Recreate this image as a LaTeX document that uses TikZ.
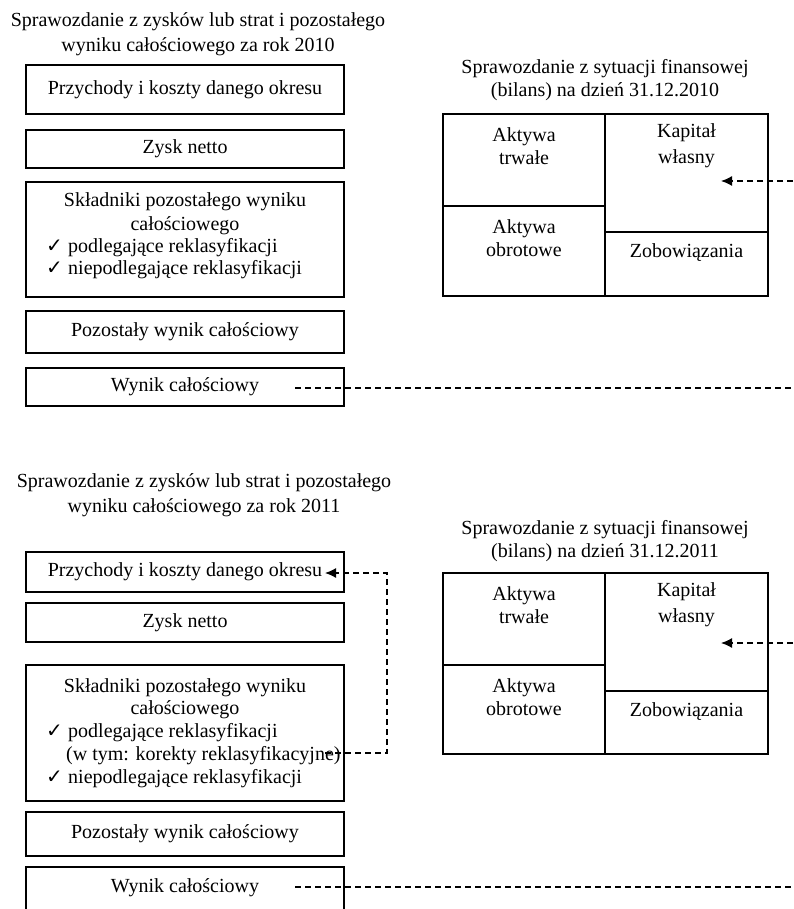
\documentclass[tikz,border=0pt]{standalone}
\usepackage{fontspec}
\setmainfont{Liberation Serif}
\newfontfamily\symfont{DejaVu Sans}
\usetikzlibrary{arrows.meta}
\newcommand{\chk}{{\symfont\fontsize{20}{20}\selectfont ✓}}
\begin{document}
\begin{tikzpicture}[x=1pt,y=-1pt,
  font=\fontsize{20}{23}\selectfont,
  box/.style={draw, line width=1.3pt, inner sep=0pt, minimum width=318pt},
  cell/.style={draw, line width=1.3pt, inner sep=0pt},
  txt/.style={inner sep=0pt, text height=14pt, text depth=4pt},
  ml/.style={inner sep=0pt, align=center},
  conn/.style={line width=1.3pt, dash pattern=on 6pt off 4pt},
  tip/.style={-{Latex[length=11pt,width=10pt]}}]
\useasboundingbox (0,0) rectangle (793,909);
\clip (0,0) rectangle (793,909);

% ---------- 2010 ----------
\node[ml] (t1) at (198,34.5) {Sprawozdanie z zysków lub strat i pozostałego\\[2pt]wyniku całościowego za rok 2010};
\node[box, minimum height=49pt] (a1) at (185,89.5) {\strut Przychody i koszty danego okresu};
\node[box, minimum height=38pt] (a2) at (185,149) {\strut Zysk netto};
\node[box, minimum height=115pt] (a3) at (185,239.5) {};
\node[txt] (a3l1) at (185,202) {Składniki pozostałego wyniku};
\node[txt] (a3l2) at (185,225) {całościowego};
\node[txt, anchor=west] (a3c1) at (46,247) {\chk};
\node[txt, anchor=west] (a3l3) at (68,247) {podlegające reklasyfikacji};
\node[txt, anchor=west] (a3c2) at (46,269) {\chk};
\node[txt, anchor=west] (a3l4) at (68,269) {niepodlegające reklasyfikacji};
\node[box, minimum height=42pt] (a4) at (185,332) {\strut Pozostały wynik całościowy};
\node[box, minimum height=38pt] (a5) at (185,387) {\strut Wynik całościowy};

\node[ml] (r1) at (605,80.5) {Sprawozdanie z sytuacji finansowej\\(bilans) na dzień 31.12.2010};
\node[cell, minimum width=162pt, minimum height=92pt] (at1) at (524,160) {};
\node[cell, minimum width=162pt, minimum height=90pt] (ao1) at (524,251) {};
\node[cell, minimum width=163pt, minimum height=118pt] (kw1) at (686.5,173) {};
\node[cell, minimum width=163pt, minimum height=64pt] (zo1) at (686.5,264) {};
\node[ml] (at1t) at (524,146.5) {Aktywa\\trwałe};
\node[ml] (ao1t) at (524,238.5) {Aktywa\\obrotowe};
\node[ml] (kw1t) at (686.5,146) {Kapitał\\[3pt]własny};
\node[txt] (zo1t) at (686.5,252) {Zobowiązania};

\coordinate (k1in) at (721,181);
\coordinate (k1out) at (793,181);
\draw[conn, tip] (k1out) -- (k1in);
\coordinate (w1s) at (295,388);
\coordinate (w1e) at (793,388);
\draw[conn] (w1s) -- (w1e);

% ---------- 2011 ----------
\node[ml] (t2) at (204,495) {Sprawozdanie z zysków lub strat i pozostałego\\[2pt]wyniku całościowego za rok 2011};
\node[box, minimum height=40pt] (b1) at (185,572) {\strut Przychody i koszty danego okresu};
\node[box, minimum height=39pt] (b2) at (185,622.5) {\strut Zysk netto};
\node[box, minimum height=136pt] (b3) at (185,733) {};
\node[txt] (b3l1) at (185,687) {Składniki pozostałego wyniku};
\node[txt] (b3l2) at (185,709) {całościowego};
\node[txt, anchor=west] (b3c1) at (46,732) {\chk};
\node[txt, anchor=west] (b3l3) at (68,732) {podlegające reklasyfikacji};
\node[txt, anchor=west] (b3l4) at (66,755) {(w tym: korekty reklasyfikacyjne)};
\node[txt, anchor=west] (b3c2) at (46,778) {\chk};
\node[txt, anchor=west] (b3l5) at (68,778) {niepodlegające reklasyfikacji};
\node[box, minimum height=44pt] (b4) at (185,834) {\strut Pozostały wynik całościowy};
\node[box, minimum height=44pt] (b5) at (185,889) {};
\node[txt] (b5t) at (185,887) {Wynik całościowy};

\node[ml] (r2) at (605,541.5) {Sprawozdanie z sytuacji finansowej\\(bilans) na dzień 31.12.2011};
\node[cell, minimum width=162pt, minimum height=92pt] (at2) at (524,619) {};
\node[cell, minimum width=162pt, minimum height=89pt] (ao2) at (524,709.5) {};
\node[cell, minimum width=163pt, minimum height=118pt] (kw2) at (686.5,632) {};
\node[cell, minimum width=163pt, minimum height=63pt] (zo2) at (686.5,722.5) {};
\node[ml] (at2t) at (524,605.5) {Aktywa\\trwałe};
\node[ml] (ao2t) at (524,697.5) {Aktywa\\obrotowe};
\node[ml] (kw2t) at (686.5,605) {Kapitał\\[3pt]własny};
\node[txt] (zo2t) at (686.5,711) {Zobowiązania};

\coordinate (k2in) at (721,643);
\coordinate (k2out) at (793,643);
\draw[conn, tip] (k2out) -- (k2in);
\coordinate (w2s) at (295,887);
\coordinate (w2e) at (793,887);
\draw[conn] (w2s) -- (w2e);

\coordinate (ks) at (325,753);
\coordinate (kc1) at (387,753);
\coordinate (kc2) at (387,573);
\coordinate (ke) at (325,573);
\draw[conn, tip] (ks) -- (kc1) -- (kc2) -- (ke);
\end{tikzpicture}
\end{document}
